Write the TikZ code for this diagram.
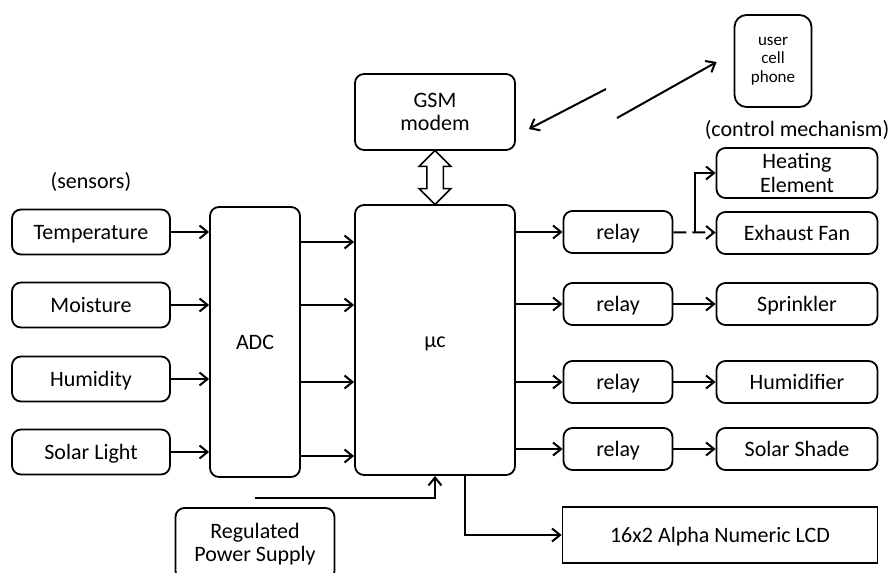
\documentclass[tikz,border=0pt]{standalone}
\usepackage{fontspec}
\setmainfont{Carlito}
\usetikzlibrary{arrows.meta,positioning,calc,shapes.arrows}
\tikzset{
  box/.style={draw,line width=1.8pt,rounded corners=9pt,fill=white,inner sep=0pt,
    align=center,font=\fontsize{22}{23.5}\selectfont,minimum height=42pt},
  one/.style={text height=16pt,text depth=1.8pt},              % single line, caps centred
  sbox/.style={box,one,minimum width=158pt,minimum height=45pt},   % sensors
  rbox/.style={box,one,minimum width=109pt},                       % relays
  abox/.style={box,one,minimum width=161pt},                       % actuators
  plain/.style={inner sep=0pt,align=center,font=\fontsize{22}{23.5}\selectfont},
  flow/.style={-{Straight Barb[length=8pt,width=13pt]},line width=2pt},
  flowd/.style={flow,dash pattern=on 13pt off 6pt},
  dbl/.style={double arrow,draw,line width=1.5pt,fill=white,inner xsep=0pt,inner ysep=7.5pt,
    minimum height=54pt,double arrow head extend=7.5pt,rotate=90},
}
\begin{document}
\begin{tikzpicture}[x=1pt,y=-1pt]
  \useasboundingbox (0,0) rectangle (890,572);
  % --- sensors ---
  \node[plain] (sens) at (91,182) {(sensors)};
  \node[sbox] (temp) at (91,232) {Temperature};
  \node[sbox] (moist) at (91,305) {Moisture};
  \node[sbox] (humid) at (91,379) {Humidity};
  \node[sbox] (solar) at (91,452) {Solar Light};
  % --- ADC, controller, GSM ---
  \node[box,one,minimum width=90pt,minimum height=270pt] (adc) at (255,342) {ADC};
  \node[box,one,minimum width=160pt,minimum height=270pt] (mc) at (435,340) {μc};
  \node[box,minimum width=160pt,minimum height=76pt] (gsm) at (435,112) {GSM\\modem};
  \node[dbl] (link) at ($(gsm.south)!0.5!(mc.north)$) {};
  \node[box,font=\fontsize{17}{18.5}\selectfont,minimum width=77pt,minimum height=92pt,
    rounded corners=12pt] (phone) at (773,61) {user\\cell\\phone};
  % --- control mechanism ---
  \node[plain] (ctrl) at (797,130) {(control mechanism)};
  \node[abox,text height=,text depth=,minimum height=50pt] (heat) at (797,173) {Heating\\Element};
  \node[abox] (fan) at (797,233) {Exhaust Fan};
  \node[abox] (spr) at (797,304) {Sprinkler};
  \node[abox] (hum) at (797,382) {Humidifier};
  \node[abox] (shade) at (797,449) {Solar Shade};
  \foreach \rl/\y in {r1/232,r2/304,r3/382,r4/449} \node[rbox] (\rl) at (618,\y) {relay};
  \node[box,one,sharp corners,minimum width=315pt,minimum height=56pt] (lcd) at (720,535)
    {16x2 Alpha Numeric LCD};
  \node[box,minimum width=159pt,minimum height=72pt] (psu) at (255,544)
    {Regulated\\Power Supply};
  % --- connectors ---
  \foreach \sn in {temp,moist,humid,solar} \draw[flow] (\sn) -- (\sn -| adc.west);
  \foreach \y in {242,305,382,456} \draw[flow] (adc.east |- 0,\y) -- (mc.west |- 0,\y);
  \foreach \rl in {r1,r2,r3,r4} \draw[flow] (\rl -| mc.east) -- (\rl);
  \foreach \rl/\ac in {r2/spr,r3/hum,r4/shade} \draw[flow] (\rl) -- (\ac);
  \draw[flowd] (r1) -- (fan);
  \coordinate (br) at ($(r1.east)!0.5!(fan.west)$);
  \draw[flow] (br) |- (heat);
  \coordinate (lnk1) at (606,89);
  \coordinate (lnk2) at (617,118);
  \draw[flow] (lnk1) -- ($(gsm.east)+(13,17)$);
  \draw[flow] (lnk2) -- ($(phone.west)+(-17,1)$);
  \draw[flow] ($(mc.south)+(30,0)$) |- (lcd);
  \coordinate (pw) at ($(psu.north)+(0,-9)$);
  \draw[flow] (pw) -| (mc.south);
\end{tikzpicture}
\end{document}
